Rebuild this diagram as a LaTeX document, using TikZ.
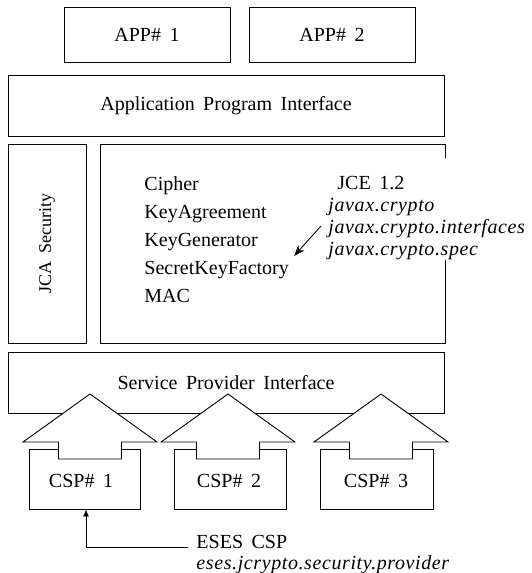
\documentclass[tikz,border=0pt]{standalone}
\usepackage{fontspec}
\setmainfont{Liberation Serif}[WordSpace=1.7, ItalicFeatures={LetterSpace=3}]
\usetikzlibrary{arrows.meta}
\begin{document}
\begin{tikzpicture}[x=1pt,y=-1pt, line width=0.9pt,
  box/.style={draw, rectangle, inner sep=0pt, font=\fontsize{20}{24}\selectfont},
  lbl/.style={inner sep=0pt, anchor=base west, font=\fontsize{20}{24}\selectfont},
  ilbl/.style={inner sep=0pt, anchor=base west, font=\fontsize{20}{24}\selectfont\itshape},
  bigarrow/.style={draw, fill=white, line join=miter}]
\useasboundingbox (0,0) rectangle (532,573);
% top applications
\node[box, minimum width=166pt, minimum height=55pt] (app1) at (147,34.5) {APP\# 1};
\node[box, minimum width=166pt, minimum height=55pt] (app2) at (332,34.5) {APP\# 2};
\node[box, minimum width=436pt, minimum height=61pt] (api) at (226,105.5) {Application Program Interface};
% JCA and JCE
\node[box, minimum width=78pt, minimum height=199pt] (jca) at (47,243.5) {};
\node[lbl, anchor=center, rotate=90, font=\fontsize{18}{22}\selectfont] (jcatext) at (jca.center) {JCA Security};
\node[box, minimum width=345pt, minimum height=199pt] (jce) at (272.5,243.5) {};
\fill[white] (440,158) rectangle (452,260);
\node[lbl] (cipher) at (144,190) {Cipher};
\node[lbl] (keyag) at (144,218) {KeyAgreement};
\node[lbl] (keygen) at (144,246) {KeyGenerator};
\node[lbl] (skf) at (144,274) {SecretKeyFactory};
\node[lbl] (mac) at (144,302) {MAC};
\node[lbl] (jcever) at (337,189) {JCE 1.2};
\node[ilbl] (jx1) at (328,211) {javax.crypto};
\node[ilbl] (jx2) at (328,233) {javax.crypto.interfaces};
\node[ilbl] (jx3) at (328,255) {javax.crypto.spec};
\coordinate (pa) at (321,226);
\coordinate (pb) at (294,256);
\draw[-{Stealth[length=11pt,width=8pt]}] (pa) -- (pb);
% SPI
\node[box, minimum width=436pt, minimum height=61pt] (spi) at (226,382.5) {Service Provider Interface};
% CSP boxes
\node[box, minimum width=111pt, minimum height=60pt] (csp1) at (84.5,479) {};
\node[box, minimum width=112pt, minimum height=60pt] (csp2) at (230,479) {};
\node[box, minimum width=113pt, minimum height=60pt] (csp3) at (376.5,479) {};
\node[lbl, anchor=center] (t1) at (81,481) {CSP\# 1};
\node[lbl, anchor=center] (t2) at (229,481) {CSP\# 2};
\node[lbl, anchor=center] (t3) at (376,481) {CSP\# 3};
% big arrows
\draw[bigarrow] (90,394) -- (157,442) -- (121.5,442) -- (121.5,459) -- (58.5,459) -- (58.5,442) -- (23,442) -- cycle;
\draw[bigarrow] (228,394) -- (295,442) -- (259.5,442) -- (259.5,459) -- (196.5,459) -- (196.5,442) -- (161,442) -- cycle;
\draw[bigarrow] (381,394) -- (448,442) -- (412.5,442) -- (412.5,459) -- (349.5,459) -- (349.5,442) -- (314,442) -- cycle;
% ESES CSP
\node[lbl] (eses) at (196,548) {ESES CSP};
\node[ilbl] (esesp) at (196,569) {eses.jcrypto.security.provider};
\coordinate (elb) at (86,547);
\coordinate (eend) at (188,547);
\draw[-{Latex[length=7pt,width=6pt]}] (eend) -- (elb) -- (elb |- csp1.south);
\end{tikzpicture}
\end{document}
